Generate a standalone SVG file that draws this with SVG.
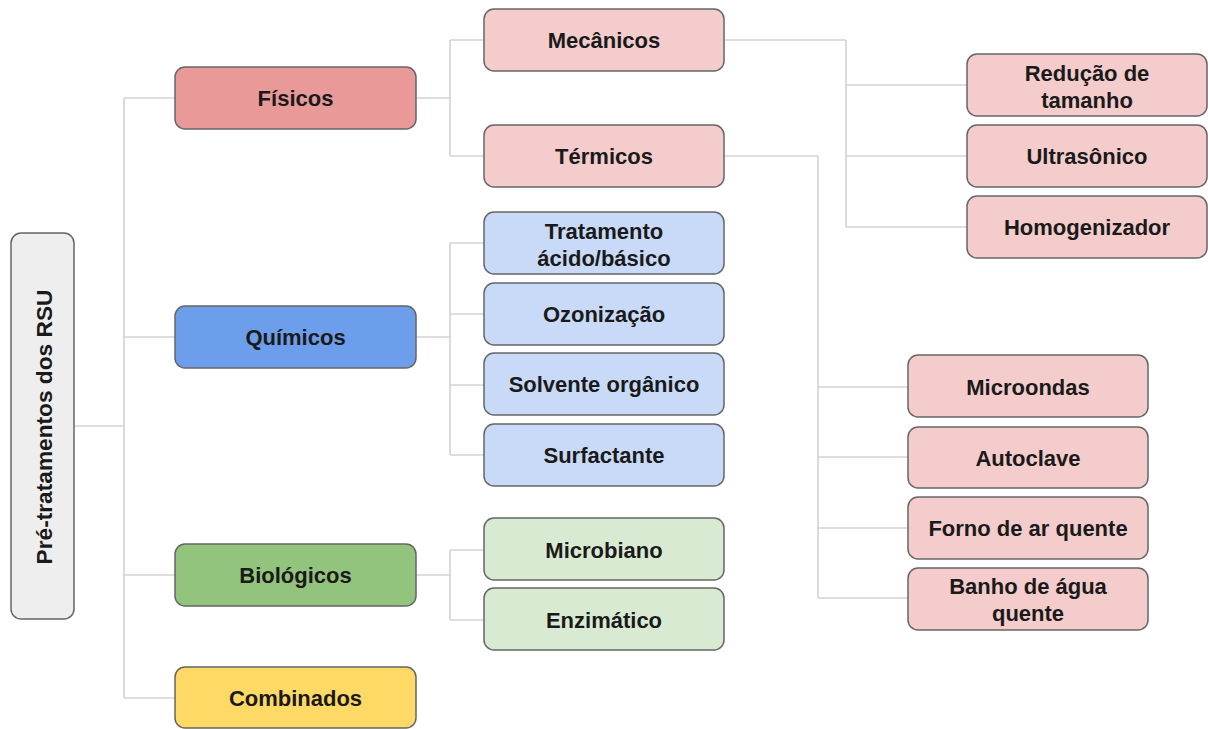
<svg xmlns="http://www.w3.org/2000/svg" width="1208" height="729" viewBox="0 0 1208 729">
<style>
.box{stroke:#666;stroke-width:1.5}
.root{fill:#eeeeee}
.fis{fill:#ea9999}
.qui{fill:#6d9eeb}
.bio{fill:#93c47d}
.com{fill:#ffd966}
.lpink{fill:#f4cccc}
.lblue{fill:#c9daf8}
.lgreen{fill:#d9ead3}
text{font-family:"Liberation Sans",Arial,sans-serif;font-weight:bold;font-size:22px;fill:#1a1a1a;text-anchor:middle}
.big{font-size:22.7px}
.conn{fill:none;stroke:#d3d3d3;stroke-width:1.6}
</style>
<rect width="1208" height="729" fill="#ffffff"/>
<g id="connectors" class="conn">
<path d="M74 426H124M124 98V698M124 98H175M124 337H175M124 575H175M124 698H175"/>
<path d="M416 98H450M450 40V156M450 40H484M450 156H484"/>
<path d="M416 337H450M450 243V455M450 243H484M450 314H484M450 385H484M450 455H484"/>
<path d="M416 575H450M450 550V620M450 550H484M450 620H484"/>
<path d="M724 40H846M846 40V227M846 85H967M846 156H967M846 227H967"/>
<path d="M724 156H818M818 156V598M818 387H908M818 457H908M818 528H908M818 598H908"/>
</g>
<g id="root"><rect class="box root" x="11" y="233" width="63" height="386" rx="10"/><text class="big" transform="translate(52 427) rotate(-90)">Pré-tratamentos dos RSU</text></g>
<g id="fisicos"><rect class="box fis" x="175" y="67" width="241" height="62" rx="10"/><text x="295.5" y="106">Físicos</text></g>
<g id="quimicos"><rect class="box qui" x="175" y="306" width="241" height="62" rx="10"/><text x="295.5" y="345">Químicos</text></g>
<g id="biologicos"><rect class="box bio" x="175" y="544" width="241" height="62" rx="10"/><text x="295.5" y="583">Biológicos</text></g>
<g id="combinados"><rect class="box com" x="175" y="667" width="241" height="61" rx="10"/><text x="295.5" y="706">Combinados</text></g>
<g id="mecanicos"><rect class="box lpink" x="484" y="9" width="240" height="62" rx="10"/><text x="604" y="48">Mecânicos</text></g>
<g id="termicos"><rect class="box lpink" x="484" y="125" width="240" height="62" rx="10"/><text x="604" y="164">Térmicos</text></g>
<g id="acido"><rect class="box lblue" x="484" y="212" width="240" height="62" rx="10"/><text x="604" y="238.5">Tratamento</text><text x="604" y="265.5">ácido/básico</text></g>
<g id="ozonizacao"><rect class="box lblue" x="484" y="283" width="240" height="62" rx="10"/><text x="604" y="322">Ozonização</text></g>
<g id="solvente"><rect class="box lblue" x="484" y="353" width="240" height="62" rx="10"/><text x="604" y="392">Solvente orgânico</text></g>
<g id="surfactante"><rect class="box lblue" x="484" y="424" width="240" height="62" rx="10"/><text x="604" y="463">Surfactante</text></g>
<g id="microbiano"><rect class="box lgreen" x="484" y="518" width="240" height="62" rx="10"/><text x="604" y="558">Microbiano</text></g>
<g id="enzimatico"><rect class="box lgreen" x="484" y="588" width="240" height="62" rx="10"/><text x="604" y="628">Enzimático</text></g>
<g id="reducao"><rect class="box lpink" x="967" y="54" width="240" height="62" rx="10"/><text x="1087" y="80.5">Redução de</text><text x="1087" y="107.5">tamanho</text></g>
<g id="ultrasonico"><rect class="box lpink" x="967" y="125" width="240" height="62" rx="10"/><text x="1087" y="164">Ultrasônico</text></g>
<g id="homogenizador"><rect class="box lpink" x="967" y="196" width="240" height="62" rx="10"/><text x="1087" y="235">Homogenizador</text></g>
<g id="microondas"><rect class="box lpink" x="908" y="355" width="240" height="62" rx="10"/><text x="1028" y="394.5">Microondas</text></g>
<g id="autoclave"><rect class="box lpink" x="908" y="427" width="240" height="61" rx="10"/><text x="1028" y="465.5">Autoclave</text></g>
<g id="forno"><rect class="box lpink" x="908" y="497" width="240" height="62" rx="10"/><text x="1028" y="536">Forno de ar quente</text></g>
<g id="banho"><rect class="box lpink" x="908" y="568" width="240" height="62" rx="10"/><text x="1028" y="593.5">Banho de água</text><text x="1028" y="620.5">quente</text></g>
</svg>
